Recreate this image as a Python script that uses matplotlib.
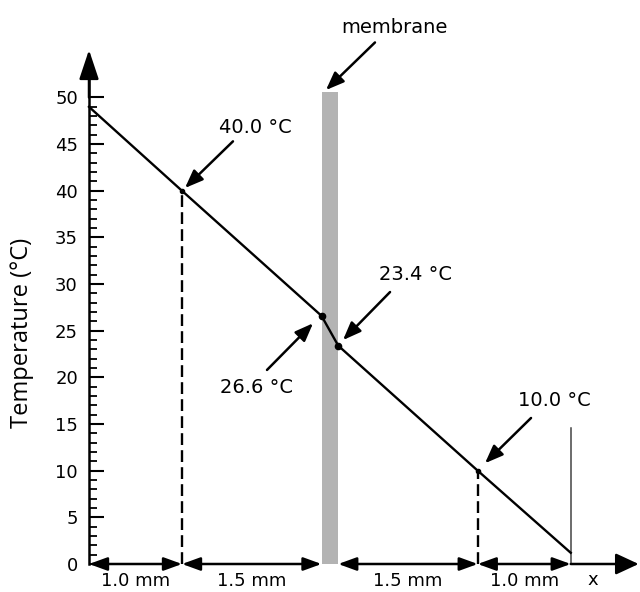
import matplotlib
matplotlib.use('Agg')
import matplotlib.pyplot as plt
from matplotlib.ticker import FixedLocator

# данные
membrane_w = 0.18
x_pts = [0.0, 1.0, 2.5, 2.5 + membrane_w, 4.0 + membrane_w, 5.0 + membrane_w]
temps = [49.0, 40.0, 26.6, 23.4, 10.0, 1.2]
membrane_top = 50.6
end_line_top = 14.6
seg_labels = ['1.0 mm', '1.5 mm', '1.5 mm', '1.0 mm']
seg_bounds = [(x_pts[0], x_pts[1]), (x_pts[1], x_pts[2]),
              (x_pts[3], x_pts[4]), (x_pts[4], x_pts[5])]
dashed_idx = [1, 4]
major_ticks = list(range(0, 51, 5))
minor_ticks = list(range(0, 51))
# подписи: текст, позиция (базовая линия), хвост стрелки, острие стрелки
notes = [
    ('40.0 °C', (1.785, 46.2), (1.548, 45.3), (1.032, 40.3)),
    ('membrane', (3.285, 56.9), (3.075, 55.9), (2.548, 50.8)),
    ('23.4 °C', (3.516, 30.44), (3.237, 29.15), (2.731, 24.0)),
    ('26.6 °C', (1.801, 18.33), (1.914, 20.8), (2.409, 25.8)),
    ('10.0 °C', (5.005, 16.93), (4.753, 15.65), (4.258, 10.8)),
]

fig = plt.figure(figsize=(6.4, 5.92), dpi=100)
ax = fig.add_axes([0, 0, 1, 1])
ax.set_xlim(-89 / 93, 551 / 93)
ax.set_ylim(-28 / 9.33, 564 / 9.33)

for s in ['top', 'right', 'bottom']:
    ax.spines[s].set_visible(False)
ax.spines['left'].set_position(('data', 0))
ax.spines['left'].set_bounds(0, 53)
ax.spines['left'].set_linewidth(1.8)
ax.set_xticks([])
ax.yaxis.set_major_locator(FixedLocator(major_ticks))
ax.yaxis.set_minor_locator(FixedLocator(minor_ticks))
ax.tick_params(axis='y', which='major', direction='in', length=11, width=1.5,
               labelsize=13, pad=8)
ax.tick_params(axis='y', which='minor', direction='in', length=6, width=1.3)

# оси со стрелками
ax.annotate('', xy=(0, 55.1), xytext=(0, 50),
            arrowprops=dict(arrowstyle='-|>,head_length=1.8,head_width=0.6',
                            color='black', lw=1.8, mutation_scale=10, shrinkA=0, shrinkB=0))
ax.annotate('', xy=(5.91, 0), xytext=(x_pts[-1], 0),
            arrowprops=dict(arrowstyle='-|>,head_length=1.4,head_width=0.65',
                            color='black', lw=1.8, mutation_scale=10, shrinkA=0, shrinkB=0))

# мембрана
ax.bar(x_pts[2], membrane_top, width=membrane_w, align='edge', color='#b3b3b3', zorder=1)

# профиль температуры
ax.plot(x_pts, temps, color='black', lw=1.7, zorder=3)
ax.plot(x_pts[2:4], temps[2:4], 'o', color='black', ms=4.5, zorder=4)
ax.plot([x_pts[i] for i in dashed_idx], [temps[i] for i in dashed_idx], 'o',
        color='black', ms=3, zorder=4)
for i in dashed_idx:
    ax.plot([x_pts[i], x_pts[i]], [0, temps[i]], color='black', lw=1.7,
            dashes=(5, 2.2), zorder=2)
ax.plot([x_pts[-1], x_pts[-1]], [0, end_line_top], color='#444444', lw=1.1, zorder=2)

# размеры
for (a, b), lab in zip(seg_bounds, seg_labels):
    ax.annotate('', xy=(b, 0), xytext=(a, 0),
                arrowprops=dict(arrowstyle='<|-|>,head_length=1.1,head_width=0.4',
                                color='black', lw=1.8, mutation_scale=10, shrinkA=0, shrinkB=0))
    ax.text((a + b) / 2, -2.35, lab, ha='center', va='baseline', fontsize=13)
ax.text(5.42, -2.25, 'x', ha='center', va='baseline', fontsize=13)

for lab, tpos, tail, head in notes:
    ax.text(tpos[0], tpos[1], lab, ha='center', va='baseline', fontsize=14)
    ax.annotate('', xy=head, xytext=tail,
                arrowprops=dict(arrowstyle='-|>,head_length=1.1,head_width=0.43',
                                color='black', lw=1.8, mutation_scale=10, shrinkA=0, shrinkB=0))

fig.text(22 / 640, 1 - 333 / 592, 'Temperature (°C)', rotation=90, ha='center',
         va='center', fontsize=17, family='Open Sans')

fig.savefig('out.png', dpi=100)
